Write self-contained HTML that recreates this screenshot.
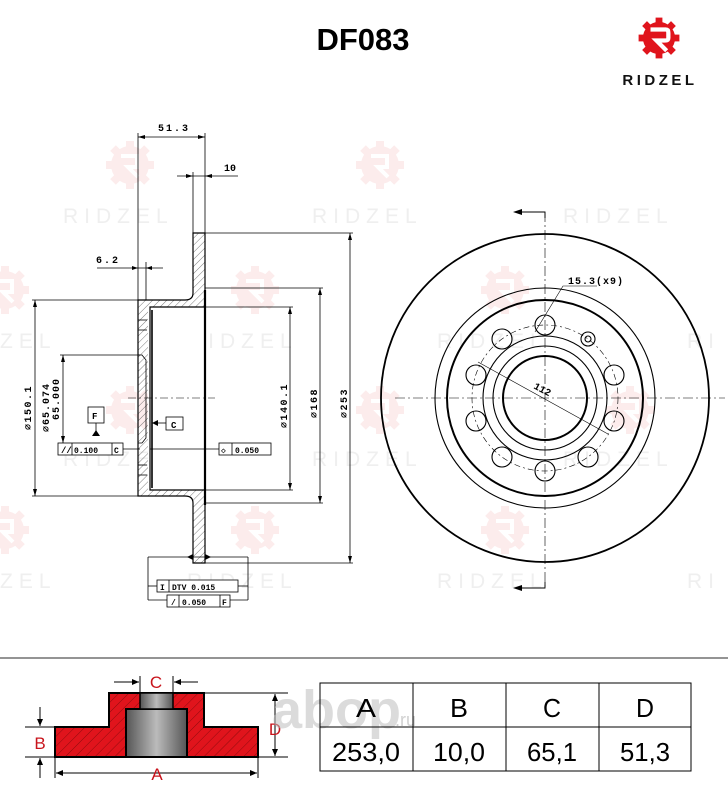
<!DOCTYPE html>
<html><head><meta charset="utf-8"><style>
html,body{margin:0;padding:0;background:#fff;}
svg{display:block;}
</style></head><body>
<svg width="728" height="800" viewBox="0 0 728 800" xmlns="http://www.w3.org/2000/svg" font-family="Liberation Sans, sans-serif">
<defs>
<pattern id="h" width="5" height="5" patternUnits="userSpaceOnUse" patternTransform="rotate(45)"><line x1="0" y1="0" x2="0" y2="5" stroke="#444" stroke-width="0.7"/></pattern>
<pattern id="rh" width="7" height="7" patternUnits="userSpaceOnUse" patternTransform="rotate(45)"><rect width="7" height="7" fill="#e0141c"/><line x1="0" y1="0" x2="0" y2="7" stroke="#7a0a0a" stroke-width="0.8"/></pattern>
<linearGradient id="g" x1="0" x2="1"><stop offset="0" stop-color="#555"/><stop offset="0.5" stop-color="#bbb"/><stop offset="1" stop-color="#555"/></linearGradient>
<g id="teeth">
<rect x="-4" y="-24" width="8" height="48"/>
<rect x="-4" y="-24" width="8" height="48" transform="rotate(45)"/>
<rect x="-4" y="-24" width="8" height="48" transform="rotate(90)"/>
<rect x="-4" y="-24" width="8" height="48" transform="rotate(135)"/>
<circle r="19"/>
</g>
<g id="gear"><use href="#teeth" fill="#fcecec"/><path d="M-9 -9 L7 -9 L7 2 L-2 2 L8 12" fill="none" stroke="#fff" stroke-width="4"/></g>
</defs>

<!-- watermarks -->
<g fill="#efefef" font-size="21" letter-spacing="6">
<text x="63" y="223">RIDZEL</text><text x="312" y="223">RIDZEL</text><text x="563" y="223">RIDZEL</text>
<text x="0" y="348">ZEL</text><text x="187" y="348">RIDZEL</text><text x="437" y="348">RIDZEL</text><text x="687" y="348">RI</text>
<text x="63" y="466">RIDZEL</text><text x="312" y="466">RIDZEL</text><text x="563" y="466">RIDZEL</text>
<text x="0" y="588">ZEL</text><text x="187" y="588">RIDZEL</text><text x="437" y="588">RIDZEL</text><text x="687" y="588">RI</text>
</g>
<g>
<use href="#gear" x="130" y="165"/><use href="#gear" x="380" y="165"/>
<use href="#gear" x="5" y="290"/><use href="#gear" x="255" y="290"/><use href="#gear" x="505" y="290"/>
<use href="#gear" x="130" y="410"/><use href="#gear" x="380" y="410"/><use href="#gear" x="630" y="410"/>
<use href="#gear" x="5" y="530"/><use href="#gear" x="255" y="530"/><use href="#gear" x="505" y="530"/>
</g>

<!-- header -->
<text x="363" y="50" font-size="31" font-weight="bold" text-anchor="middle" fill="#000">DF083</text>
<g transform="translate(659,38) scale(0.85)">
<use href="#teeth" fill="#e0141c"/>
<path d="M-10 -10 L8 -10 Q11 -10 11 -6 L11 0 Q11 3 7 3 L-3 3 L9 15" fill="none" stroke="#fff" stroke-width="5"/>
</g>
<text x="660" y="85" font-size="15" font-weight="bold" text-anchor="middle" letter-spacing="3.5" fill="#111">RIDZEL</text>

<!-- left section drawing -->
<g stroke="#000" fill="none" stroke-width="0.8">
<path d="M193 233 L205 233 L205 563 L193 563 L193 503 Q193 496 185 496 L138 496 L138 300 L185 300 Q193 300 193 293 Z" fill="url(#h)" stroke-width="1.2"/>
<rect x="148" y="307" width="57" height="183" fill="#fff" stroke="none"/>
<path d="M205 307 L150 307 L150 490 L205 490" stroke-width="1.2"/>
<line x1="205" y1="290" x2="205" y2="505" stroke-width="2.2"/>
<line x1="152" y1="310" x2="152" y2="488" stroke-width="1.6"/>
<path d="M138 355 L142 355 L146 360 L146 438 L142 443 L138 443" />
<line x1="138" y1="320" x2="147" y2="320"/><line x1="138" y1="330" x2="147" y2="330"/>
<line x1="138" y1="465" x2="147" y2="465"/><line x1="138" y1="475" x2="147" y2="475"/>
<line x1="128" y1="398" x2="215" y2="398" stroke-dasharray="8 3 2 3" stroke-width="0.6"/>
<line x1="138" y1="133" x2="138" y2="300"/><line x1="205" y1="133" x2="205" y2="233"/>
<line x1="138" y1="137" x2="205" y2="137"/>
<line x1="193" y1="172" x2="193" y2="233"/>
<line x1="177" y1="176" x2="238" y2="176"/>
<line x1="146" y1="262" x2="146" y2="300"/>
<line x1="97" y1="268" x2="163" y2="268"/>
<line x1="32" y1="300" x2="138" y2="300"/><line x1="32" y1="496" x2="138" y2="496"/>
<line x1="35" y1="300" x2="35" y2="496"/>
<line x1="60" y1="355" x2="140" y2="355"/>
<line x1="63" y1="355" x2="63" y2="443"/>
<line x1="205" y1="307" x2="293" y2="307"/><line x1="205" y1="490" x2="293" y2="490"/>
<line x1="290" y1="307" x2="290" y2="490"/>
<line x1="205" y1="288" x2="323" y2="288"/><line x1="205" y1="503" x2="323" y2="503"/>
<line x1="320" y1="288" x2="320" y2="503"/>
<line x1="205" y1="233" x2="353" y2="233"/><line x1="205" y1="563" x2="353" y2="563"/>
<line x1="350" y1="233" x2="350" y2="563"/>
<rect x="88" y="407" width="16" height="16" fill="#fff"/>
<line x1="96" y1="423" x2="96" y2="436"/>
<rect x="58" y="443" width="65" height="12" fill="#fff"/><line x1="72" y1="443" x2="72" y2="455"/><line x1="112" y1="443" x2="112" y2="455"/>
<line x1="123" y1="449" x2="140" y2="449"/>
<rect x="166" y="417" width="17" height="13" fill="#fff"/><line x1="152" y1="423" x2="166" y2="423"/>
<rect x="219" y="443" width="52" height="12" fill="#fff"/><line x1="232" y1="443" x2="232" y2="455"/>
<line x1="150" y1="449" x2="219" y2="449"/>
<line x1="148" y1="557" x2="248" y2="557"/><line x1="148" y1="557" x2="148" y2="600"/><line x1="248" y1="557" x2="248" y2="600"/>
<rect x="157" y="580" width="81" height="12" fill="#fff"/><line x1="169" y1="580" x2="169" y2="592"/>
<rect x="167" y="595" width="63" height="12" fill="#fff"/><line x1="179" y1="595" x2="179" y2="607"/><line x1="220" y1="595" x2="220" y2="607"/>
<line x1="148" y1="586" x2="157" y2="586"/><line x1="238" y1="586" x2="248" y2="586"/>
<line x1="148" y1="600" x2="167" y2="600"/><line x1="230" y1="600" x2="248" y2="600"/>
</g>
<g fill="#000">
<path d="M92 436 L100 436 L96 430 Z"/>
<path d="M152 423 L158 420 L158 426 Z"/>
<path d="M187 557 L193 554 L193 560 Z"/><path d="M211 557 L205 554 L205 560 Z"/>
<path d="M138 137 L145 135 L145 139Z"/><path d="M205 137 L198 135 L198 139Z"/>
<path d="M193 176 L186 174 L186 178Z"/><path d="M205 176 L212 174 L212 178Z"/>
<path d="M138 268 L132 266 L132 270Z"/><path d="M146 268 L152 266 L152 270Z"/>
<path d="M35 300 L33 307 L37 307Z"/><path d="M35 496 L33 489 L37 489Z"/>
<path d="M63 355 L61 362 L65 362Z"/><path d="M63 443 L61 436 L65 436Z"/>
<path d="M290 307 L288 314 L292 314Z"/><path d="M290 490 L288 483 L292 483Z"/>
<path d="M320 288 L318 295 L322 295Z"/><path d="M320 503 L318 496 L322 496Z"/>
<path d="M350 233 L348 240 L352 240Z"/><path d="M350 563 L348 556 L352 556Z"/>
</g>
<g font-family="Liberation Mono, monospace" font-weight="bold" font-size="10" fill="#000">
<text x="158" y="131" letter-spacing="2">51.3</text>
<text x="224" y="171">10</text>
<text x="96" y="263" letter-spacing="2">6.2</text>
<text x="92" y="419" font-size="9">F</text>
<text x="171" y="428" font-size="9">C</text>
<text x="61" y="453" font-size="9">//</text><text x="74" y="453" font-size="8">0.100</text><text x="114" y="453" font-size="8">C</text>
<text x="221" y="453" font-size="8">◇</text><text x="235" y="453" font-size="8">0.050</text>
<text x="160" y="590" font-size="8">I</text><text x="172" y="590" font-size="8">DTV 0.015</text>
<text x="171" y="605" font-size="8">/</text><text x="182" y="605" font-size="8">0.050</text><text x="222" y="605" font-size="8">F</text>
<text transform="translate(31,430) rotate(-90)" letter-spacing="1.5">⌀150.1</text>
<text transform="translate(49,432) rotate(-90)" letter-spacing="1">⌀65.074</text>
<text transform="translate(59,420) rotate(-90)" letter-spacing="1">65.000</text>
<text transform="translate(287,428) rotate(-90)" letter-spacing="1.5">⌀140.1</text>
<text transform="translate(317,418) rotate(-90)" letter-spacing="1.5">⌀168</text>
<text transform="translate(347,418) rotate(-90)" letter-spacing="1.5">⌀253</text>
</g>

<!-- right disc view -->
<g stroke="#000" fill="none" transform="translate(545,398)">
<circle r="164" stroke-width="1.8"/>
<circle r="110" stroke-width="1.1"/>
<circle r="98" stroke-width="2"/>
<circle r="73" stroke-width="0.6" stroke-dasharray="6 3 2 3"/>
<circle r="62" stroke-width="1.1"/>
<circle r="52" stroke-width="1.1"/>
<circle r="42" stroke-width="2"/>
<line x1="-150" y1="0" x2="180" y2="0" stroke-width="0.6" stroke-dasharray="10 3 2 3"/>
<line x1="0" y1="-186" x2="0" y2="190" stroke-width="0.6" stroke-dasharray="10 3 2 3"/>
<path d="M0 -180 L0 -186 L-28 -186" stroke-width="0.9"/>
<path d="M0 184 L0 190 L-28 190" stroke-width="0.9"/>
<line x1="-67" y1="-36" x2="63" y2="36" stroke-width="0.6"/>
<path d="M-10 -66 L18 -112 L52 -112" stroke-width="0.6"/>
<g stroke-width="1.1">
<circle cx="0" cy="-73" r="10"/>
<circle cx="-43" cy="-59" r="10"/>
<circle cx="-69" cy="-23" r="10"/>
<circle cx="-69" cy="23" r="10"/>
<circle cx="-43" cy="59" r="10"/>
<circle cx="0" cy="73" r="10"/>
<circle cx="43" cy="59" r="10"/>
<circle cx="69" cy="23" r="10"/>
<circle cx="69" cy="-23" r="10"/>
<circle cx="43" cy="-59" r="7"/>
<circle cx="43" cy="-59" r="3"/>
</g>
</g>
<g fill="#000">
<path d="M513 212 L522 209 L522 215Z"/><path d="M513 588 L522 585 L522 591Z"/>
</g>
<g font-family="Liberation Mono, monospace" font-weight="bold" font-size="10" fill="#000">
<text x="568" y="284" letter-spacing="1">15.3(x9)</text>
<text transform="translate(533,388) rotate(28)">112</text>
</g>

<!-- separator -->
<line x1="0" y1="658" x2="728" y2="658" stroke="#555" stroke-width="1.2"/>

<!-- mini diagram -->
<path d="M55 727 L109 727 L109 693 L204 693 L204 727 L258 727 L258 757 L55 757 Z" fill="url(#rh)" stroke="#000" stroke-width="2"/>
<rect x="126" y="709" width="61" height="48" fill="url(#g)" stroke="#000" stroke-width="2"/>
<rect x="140" y="693" width="33" height="16" fill="url(#g)" stroke="#000" stroke-width="1.5"/>
<g stroke="#000" stroke-width="1" fill="none">
<line x1="140" y1="676" x2="140" y2="693"/><line x1="173" y1="676" x2="173" y2="693"/>
<line x1="114" y1="682" x2="139" y2="682"/><line x1="174" y1="682" x2="198" y2="682"/>
<line x1="204" y1="693" x2="288" y2="693"/><line x1="258" y1="757" x2="288" y2="757"/>
<line x1="275" y1="694" x2="275" y2="756"/>
<line x1="25" y1="727" x2="55" y2="727"/><line x1="25" y1="757" x2="55" y2="757"/>
<line x1="40" y1="707" x2="40" y2="726"/><line x1="40" y1="758" x2="40" y2="778"/>
<line x1="55" y1="757" x2="55" y2="778"/><line x1="258" y1="757" x2="258" y2="778"/>
<line x1="56" y1="773" x2="257" y2="773"/>
</g>
<g fill="#000">
<path d="M139 682 L132 679 L132 685Z"/><path d="M174 682 L181 679 L181 685Z"/>
<path d="M275 694 L272 701 L278 701Z"/><path d="M275 756 L272 749 L278 749Z"/>
<path d="M40 726 L37 719 L43 719Z"/><path d="M40 758 L37 765 L43 765Z"/>
<path d="M56 773 L63 770 L63 776Z"/><path d="M257 773 L250 770 L250 776Z"/>
</g>
<g fill="#c8141c" font-size="17" text-anchor="middle">
<text x="156" y="688">C</text>
<text x="275" y="735">D</text>
<text x="40" y="749">B</text>
<text x="157" y="780">A</text>
</g>

<text x="272" y="728" font-size="54" font-weight="bold" fill="#bdbdbd" fill-opacity="0.55">abop</text>
<text x="395" y="726" font-size="18" fill="#bdbdbd" fill-opacity="0.7">.ru</text>

<!-- table -->
<g stroke="#000" stroke-width="1" fill="none">
<rect x="320" y="683" width="371" height="88"/>
<line x1="320" y1="727" x2="691" y2="727"/>
<line x1="413" y1="683" x2="413" y2="771"/>
<line x1="506" y1="683" x2="506" y2="771"/>
<line x1="599" y1="683" x2="599" y2="771"/>
</g>
<g font-size="26" text-anchor="middle" fill="#000">
<text x="366" y="717" textLength="20" lengthAdjust="spacingAndGlyphs">A</text>
<text x="459" y="717" textLength="18" lengthAdjust="spacingAndGlyphs">B</text>
<text x="552" y="717" textLength="18" lengthAdjust="spacingAndGlyphs">C</text>
<text x="645" y="717" textLength="18" lengthAdjust="spacingAndGlyphs">D</text>
<text x="366" y="761" textLength="68" lengthAdjust="spacingAndGlyphs">253,0</text>
<text x="459" y="761" textLength="52" lengthAdjust="spacingAndGlyphs">10,0</text>
<text x="552" y="761" textLength="50" lengthAdjust="spacingAndGlyphs">65,1</text>
<text x="645" y="761" textLength="50" lengthAdjust="spacingAndGlyphs">51,3</text>
</g>
</svg>
</body></html>
